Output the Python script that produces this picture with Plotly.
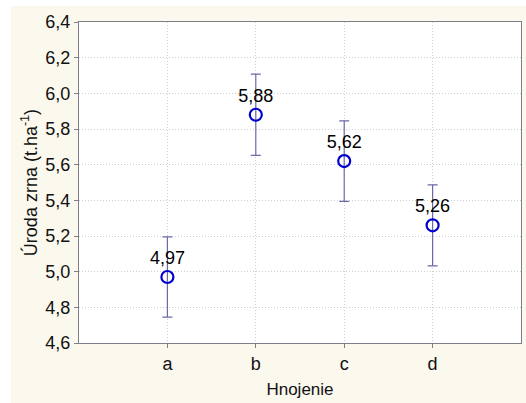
import plotly.graph_objects as go

# Grain yield by fertilisation treatment: means with error bars
categories = ["a", "b", "c", "d"]
means = [4.97, 5.88, 5.62, 5.26]
errors = [0.225, 0.228, 0.226, 0.227]
mean_labels = ["4,97", "5,88", "5,62", "5,26"]
y_ticks = [4.6, 4.8, 5.0, 5.2, 5.4, 5.6, 5.8, 6.0, 6.2, 6.4]
y_tick_labels = ["4,6", "4,8", "5,0", "5,2", "5,4", "5,6", "5,8", "6,0", "6,2", "6,4"]

x_pos = list(range(1, len(categories) + 1))

FONT = "Liberation Sans, Arial, sans-serif"
CREAM = "#FBF8EE"
AXIS = "#7F7F8A"
GRID = "#CDCDD4"

fig = go.Figure()
fig.add_trace(go.Scatter(
    x=x_pos, y=means,
    mode="markers+text",
    text=mean_labels,
    textposition="top center",
    textfont=dict(family=FONT, size=18, color="#000000"),
    marker=dict(symbol="circle-open", size=12, color="#0000D0",
                line=dict(width=2.2, color="#0000D0")),
    error_y=dict(type="data", array=errors, visible=True,
                 color="#6A6AA8", thickness=1.2, width=5),
    showlegend=False,
    cliponaxis=False,
))

fig.update_layout(
    width=526, height=403,
    margin=dict(l=79, r=5, t=22, b=60),
    paper_bgcolor=CREAM,
    plot_bgcolor="#FFFFFF",
    font=dict(family=FONT, size=17, color="#111111"),
    separators=", ",
    xaxis=dict(
        range=[0, 5],
        tickvals=x_pos, ticktext=categories,
        showgrid=True, gridcolor=GRID, griddash="1px,2px", gridwidth=1,
        showline=True, linecolor=AXIS, linewidth=1, mirror=True,
        ticks="outside", ticklen=4, tickcolor=AXIS,
        zeroline=False,
        tickfont=dict(family=FONT, size=18),
        title=dict(text="Hnojenie", font=dict(family=FONT, size=17), standoff=10),
    ),
    yaxis=dict(
        range=[4.6, 6.4],
        tickvals=y_ticks, ticktext=y_tick_labels,
        showgrid=True, gridcolor=GRID, griddash="1px,2px", gridwidth=1,
        showline=True, linecolor=AXIS, linewidth=1, mirror=True,
        ticks="outside", ticklen=4, tickcolor=AXIS,
        zeroline=False,
        tickfont=dict(family=FONT, size=18),
        title=dict(text="Úroda zrna (t.ha<sup>-1</sup>)",
                   font=dict(family=FONT, size=18), standoff=3),
    ),
    shapes=[
        # white strips along the left and top edges of the page
        dict(type="rect", xref="paper", yref="paper",
             x0=-0.2, x1=-0.154, y0=-0.3, y1=1.2,
             fillcolor="#FFFFFF", line=dict(width=0), layer="above"),
        dict(type="rect", xref="paper", yref="paper",
             x0=-0.2, x1=1.1, y0=1.0498, y1=1.2,
             fillcolor="#FFFFFF", line=dict(width=0), layer="above"),
    ],
)

fig.write_html("out.html")
